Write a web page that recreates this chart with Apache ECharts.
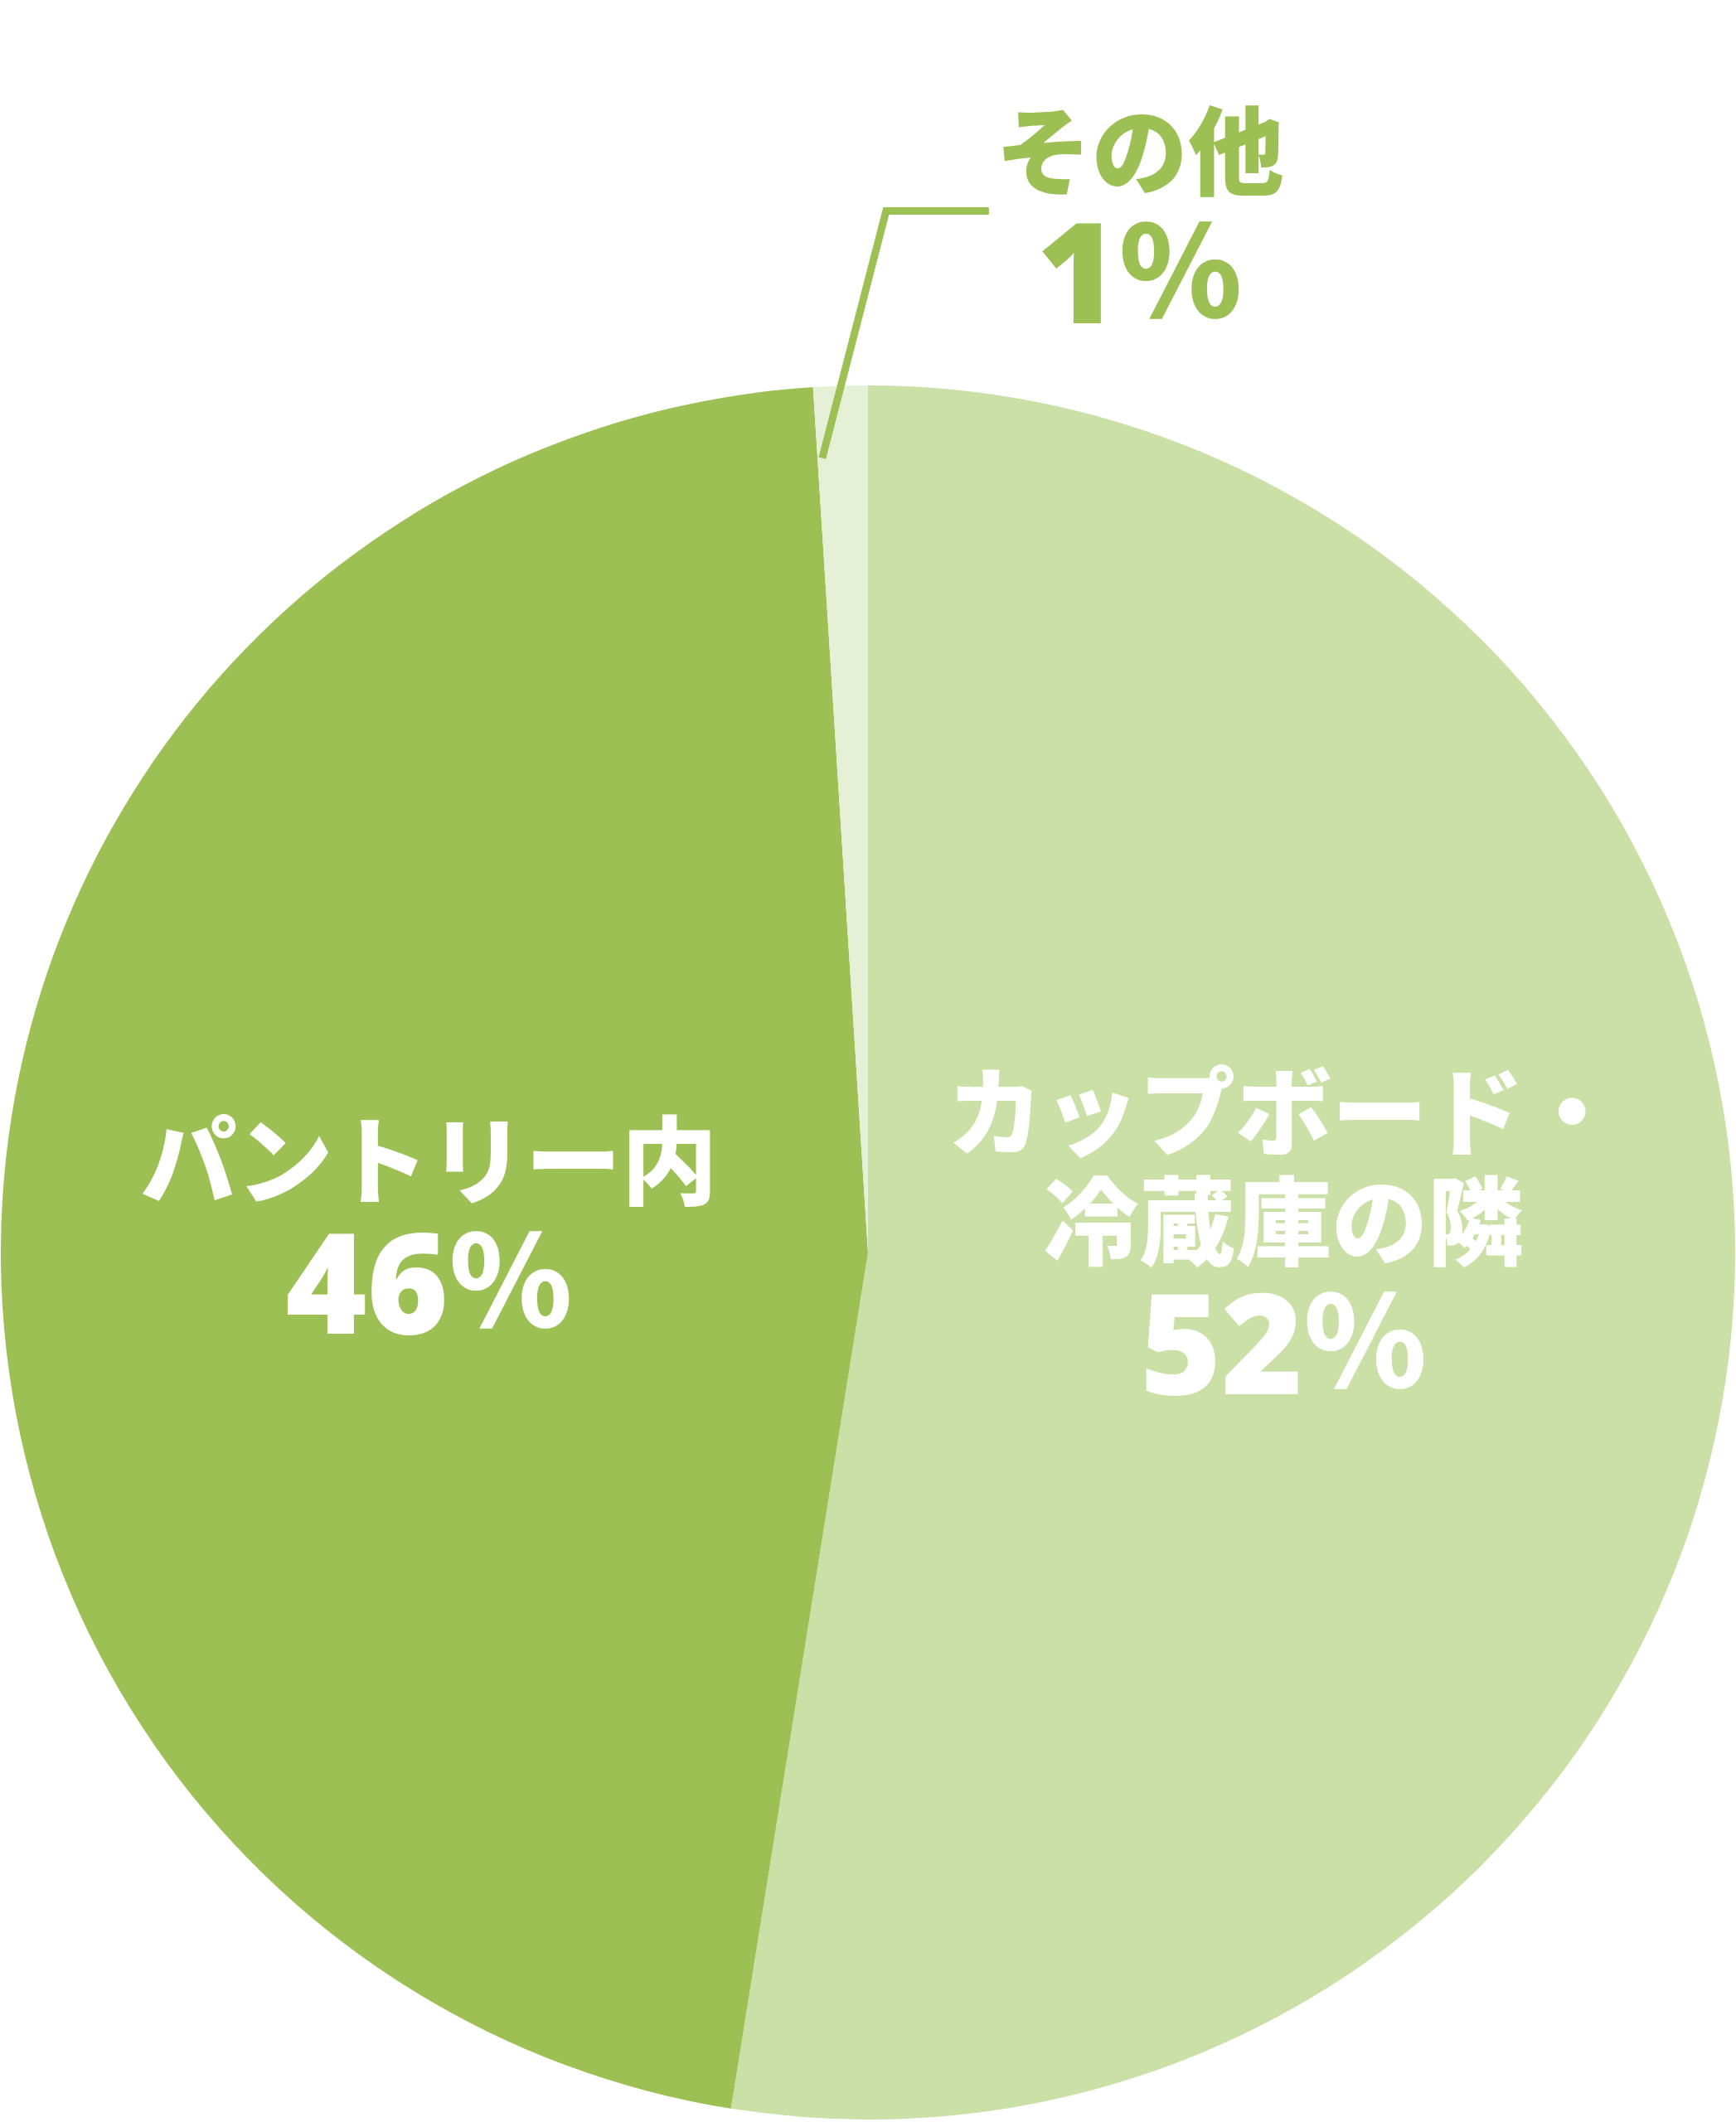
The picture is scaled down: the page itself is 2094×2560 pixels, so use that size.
<!DOCTYPE html>
<html>
<head>
<meta charset="utf-8">
<script src="https://cdn.jsdelivr.net/npm/echarts@6/dist/echarts.min.js"></script>
<style>
  html, body { margin: 0; padding: 0; background: #fff; }
  #chart { width: 2094px; height: 2560px; }
</style>
</head>
<body>
<div id="chart"></div>
<script>
// 収納場所の割合
const categories = ['カップボード・\n冷蔵庫の隣', 'パントリー内', 'その他'];
const values = [52, 46, 1];
const sliceColors = ['#cae0a6', '#9cc053', '#e5f0d7'];

const JP_FONT = '"Noto Sans CJK JP", "Noto Sans CJK SC", sans-serif';
const NUM_FONT = '"Noto Sans", "Noto Sans CJK JP", sans-serif';
const CENTER = [1047, 1511];
const RADIUS = 1046;

function labelText(name, value) {
  const lines = name.split('\n').map(function (s) { return '{name|' + s + '}'; });
  lines.push('{num|' + value + '}{pc|％}');
  return lines.join('\n');
}

function richStyle(color) {
  return {
    name: { fontFamily: JP_FONT, fontWeight: 900, fontSize: 116, lineHeight: 132, color: color },
    // 数字は％と上下をそろえるため上に余白を入れて下げる
    num: { fontFamily: NUM_FONT, fontWeight: 900, fontSize: 168, lineHeight: 156, padding: [34, 0, 0, 0], color: color },
    pc: { fontFamily: JP_FONT, fontWeight: 900, fontSize: 150, lineHeight: 156, color: color }
  };
}

// 扇形
const sliceData = categories.map(function (name, i) {
  return { name: name, value: values[i], itemStyle: { color: sliceColors[i] } };
});

// ラベル用（扇形の上に重ねる透明な系列）
const labelData = categories.map(function (name, i) {
  const outside = i === 2;
  return {
    name: name,
    value: values[i],
    label: {
      show: true,
      position: outside ? 'outside' : 'inside',
      formatter: labelText(name, values[i]),
      rich: richStyle(outside ? '#9cc053' : '#ffffff')
    },
    labelLine: {
      show: outside,
      length: 200,
      length2: 120,
      lineStyle: { color: '#9cc053', width: 9, cap: 'butt', join: 'miter' }
    }
  };
});

const chart = echarts.init(document.getElementById('chart'));

chart.setOption({
  backgroundColor: '#ffffff',
  animation: false,
  series: [{
    type: 'pie',
    z: 2,
    center: CENTER,
    radius: RADIUS,
    startAngle: 90,
    clockwise: true,
    silent: true,
    itemStyle: { borderWidth: 0 },
    label: { show: false },
    labelLine: { show: false },
    data: sliceData
  }, {
    type: 'pie',
    z: 3,
    center: CENTER,
    radius: RADIUS,
    startAngle: 90,
    clockwise: true,
    silent: true,
    avoidLabelOverlap: false,
    itemStyle: { color: 'rgba(0,0,0,0)', borderWidth: 0 },
    label: { alignTo: 'none' },
    data: labelData,
    labelLayout: function (params) {
      if (params.dataIndex === 0) return { dx: -23, dy: -68 };
      if (params.dataIndex === 1) return { dx: -4, dy: -8 };
      // その他: 扇形の外周点から右上へ引き出し線
      const pts = params.labelLinePoints;
      const p0 = pts ? pts[0] : [params.rect.x + params.rect.width / 2, params.rect.y];
      const elbow = [p0[0] + 55, p0[1] - 211];
      const end = [elbow[0] + 124, elbow[1]];
      const start = [p0[0] - 22, p0[1] + 87];
      return {
        x: end[0] + 8 + params.labelRect.width / 2,
        y: elbow[1] + 5,
        align: 'center',
        verticalAlign: 'middle',
        labelLinePoints: [start, elbow, end]
      };
    }
  }]
});
</script>
</body>
</html>
